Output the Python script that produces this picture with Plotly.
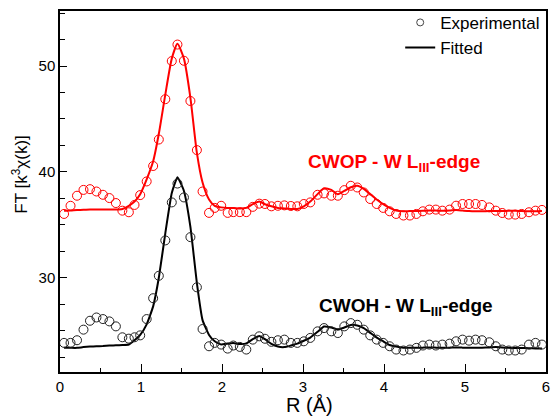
import plotly.graph_objects as go

# R grid (Å) of the experimental points
r_exp = [0.05, 0.13, 0.21, 0.29, 0.37, 0.45, 0.53, 0.61, 0.69, 0.77, 0.85, 0.92, 0.99,
         1.07, 1.15, 1.22, 1.30, 1.38, 1.45, 1.53, 1.61, 1.69, 1.76, 1.84, 1.91, 1.99,
         2.07, 2.14, 2.22, 2.30, 2.38, 2.46, 2.53, 2.61, 2.69, 2.77, 2.85, 2.93, 3.01,
         3.09, 3.18, 3.26, 3.35, 3.43, 3.51, 3.59, 3.67, 3.75, 3.83, 3.91, 3.99, 4.07,
         4.15, 4.24, 4.32, 4.40, 4.48, 4.56, 4.64, 4.72, 4.81, 4.89, 4.97, 5.05, 5.13,
         5.21, 5.30, 5.38, 5.46, 5.54, 5.62, 5.70, 5.79, 5.87, 5.95]

cwop_exp = [36.03, 36.8, 37.75, 38.3, 38.37, 38.15, 37.84, 37.53, 37.06, 36.34, 36.19, 36.88, 37.81,
            39.1, 40.56, 43.06, 46.87, 50.47, 52.03, 50.5, 46.7, 42.06, 38.15, 36.13, 36.6, 36.8,
            36.13, 36.2, 36.2, 36.2, 36.7, 37.0, 36.97, 36.75, 36.8, 36.84, 36.78, 36.75, 36.97,
            37.12, 37.84, 37.97, 37.75, 37.75, 38.28, 38.69, 38.53, 38.06, 37.44, 36.97, 36.6, 36.28,
            36.03, 35.88, 35.88, 36.03, 36.28, 36.44, 36.44, 36.34, 36.44, 36.81, 36.97, 36.97, 36.97,
            36.88, 36.65, 36.34, 36.12, 35.97, 35.97, 36.03, 36.19, 36.34, 36.41]

cwop_fit = [36.34, 36.36, 36.4, 36.42, 36.45, 36.45, 36.45, 36.45, 36.45, 36.5, 36.8, 37.2, 37.9,
            39.3, 41.0, 43.6, 47.3, 50.7, 52.1, 50.7, 47.0, 41.8, 39.0, 37.4, 36.8, 36.65,
            36.6, 36.6, 36.55, 36.6, 36.95, 37.2, 36.95, 36.75, 36.6, 36.55, 36.5, 36.5, 36.75,
            37.2, 37.9, 38.45, 38.3, 37.9, 38.2, 38.55, 38.7, 38.4, 37.9, 37.4, 36.95, 36.6,
            36.35, 36.28, 36.3, 36.3, 36.32, 36.35, 36.35, 36.33, 36.35, 36.4, 36.35, 36.3, 36.28,
            36.28, 36.3, 36.3, 36.3, 36.32, 36.32, 36.3, 36.28, 36.28, 36.3]

cwoh_exp = [23.85, 23.85, 24.1, 25.1, 25.94, 26.25, 26.1, 25.88, 25.41, 24.38, 24.25, 24.38, 24.56,
            26.1, 28.07, 30.19, 33.53, 37.12, 38.9, 37.59, 33.84, 29.1, 25.16, 23.53, 23.85, 23.69,
            23.31, 23.6, 23.47, 23.22, 24.16, 24.47, 24.24, 23.95, 24.1, 24.16, 23.85, 23.85, 24.0,
            24.32, 24.94, 25.25, 24.94, 24.78, 25.41, 25.72, 25.56, 25.1, 24.56, 24.16, 23.85, 23.53,
            23.22, 23.13, 23.22, 23.38, 23.6, 23.69, 23.6, 23.69, 23.78, 24.0, 24.16, 24.06, 24.16,
            24.1, 23.91, 23.53, 23.22, 23.13, 23.13, 23.22, 23.69, 23.85, 23.69]

cwoh_fit = [23.38, 23.38, 23.38, 23.45, 23.5, 23.53, 23.55, 23.6, 23.62, 23.65, 23.7, 24.1, 24.6,
            25.6, 27.3, 30.0, 34.2, 38.0, 39.5, 38.2, 34.8, 29.5, 26.0, 24.6, 24.0, 23.7,
            23.8, 23.85, 23.75, 23.8, 24.2, 24.5, 24.2, 23.75, 23.5, 23.45, 23.6, 23.78, 24.05,
            24.35, 24.9, 25.4, 25.3, 25.1, 25.3, 25.55, 25.5, 25.25, 24.8, 24.35, 24.0, 23.65,
            23.5, 23.4, 23.38, 23.38, 23.4, 23.42, 23.4, 23.38, 23.4, 23.42, 23.4, 23.38, 23.38,
            23.4, 23.42, 23.45, 23.42, 23.38, 23.36, 23.36, 23.35, 23.33, 23.31]

labels = ["CWOP - W L<sub>III</sub>-edge", "CWOH - W L<sub>III</sub>-edge"]
label_pos = [(4.12, 40.87), (4.27, 27.28)]

FONT = "Liberation Sans, Arial, sans-serif"
RED = "#FF0000"

fig = go.Figure()
fig.add_trace(go.Scatter(x=r_exp, y=cwop_fit, mode="lines", line=dict(color=RED, width=2, shape="spline", smoothing=0.6),
                         showlegend=False))
fig.add_trace(go.Scatter(x=r_exp, y=cwop_exp, mode="markers",
                         marker=dict(symbol="circle-open", size=9, color=RED, line=dict(width=1)), showlegend=False))
fig.add_trace(go.Scatter(x=r_exp, y=cwoh_fit, mode="lines", line=dict(color="black", width=2, shape="spline", smoothing=0.4),
                         showlegend=False))
fig.add_trace(go.Scatter(x=r_exp, y=cwoh_exp, mode="markers",
                         marker=dict(symbol="circle-open", size=9, color="#222222", line=dict(width=1)), showlegend=False))
# legend entries
fig.add_trace(go.Scatter(x=[None], y=[None], mode="markers", name="Experimental",
                         marker=dict(symbol="circle-open", size=7, color="#444444", line=dict(width=1))))
fig.add_trace(go.Scatter(x=[None], y=[None], mode="lines", name="Fitted", line=dict(color="black", width=2)))

for txt, (ax, ay), col in zip(labels, label_pos, [RED, "black"]):
    fig.add_annotation(x=ax, y=ay, xref="x", yref="y", text="<b>" + txt + "</b>", showarrow=False,
                       font=dict(family=FONT, size=19, color=col), xanchor="center", yanchor="middle")

fig.add_annotation(x=0.514, y=-0.091, xref="paper", yref="paper", text="R (Å)", showarrow=False,
                   font=dict(family=FONT, size=20, color="black"), xanchor="center", yanchor="middle")
fig.add_annotation(x=-0.084, y=0.547, xref="paper", yref="paper", text="FT [k<sup>3</sup>χ(k)]", showarrow=False,
                   textangle=-90, font=dict(family=FONT, size=17, color="black"), xanchor="center", yanchor="middle")

fig.update_layout(
    width=555, height=420,
    margin=dict(l=60, r=5, t=9, b=48),
    paper_bgcolor="white", plot_bgcolor="white",
    font=dict(family=FONT, size=15, color="black"),
    legend=dict(x=0.70, y=1.017, xanchor="left", yanchor="top", bgcolor="rgba(0,0,0,0)",
                font=dict(family=FONT, size=17, color="black"), tracegroupgap=0, itemwidth=30),
    xaxis=dict(range=[0, 6], dtick=1, tick0=0, ticks="inside", ticklen=8, tickwidth=1.2, tickcolor="black",
               showline=True, linecolor="black", linewidth=1.5, mirror=True, showgrid=False, zeroline=False,
               minor=dict(dtick=0.5, ticks="inside", ticklen=4, tickwidth=1.2, tickcolor="black"),
               tickfont=dict(family=FONT, size=15)),
    yaxis=dict(range=[21.1, 55.2], dtick=10, tick0=0, ticks="inside", ticklen=7, tickwidth=1.2, tickcolor="black",
               showline=True, linecolor="black", linewidth=1.5, mirror=True, showgrid=False, zeroline=False,
               minor=dict(dtick=2.5, tick0=0, ticks="inside", ticklen=5, tickwidth=1.2, tickcolor="black"),
               tickfont=dict(family=FONT, size=15)),
)

fig.write_html("out.html", config={"displayModeBar": False},
               post_script="document.body.style.margin='0';document.body.style.overflow='hidden';")
